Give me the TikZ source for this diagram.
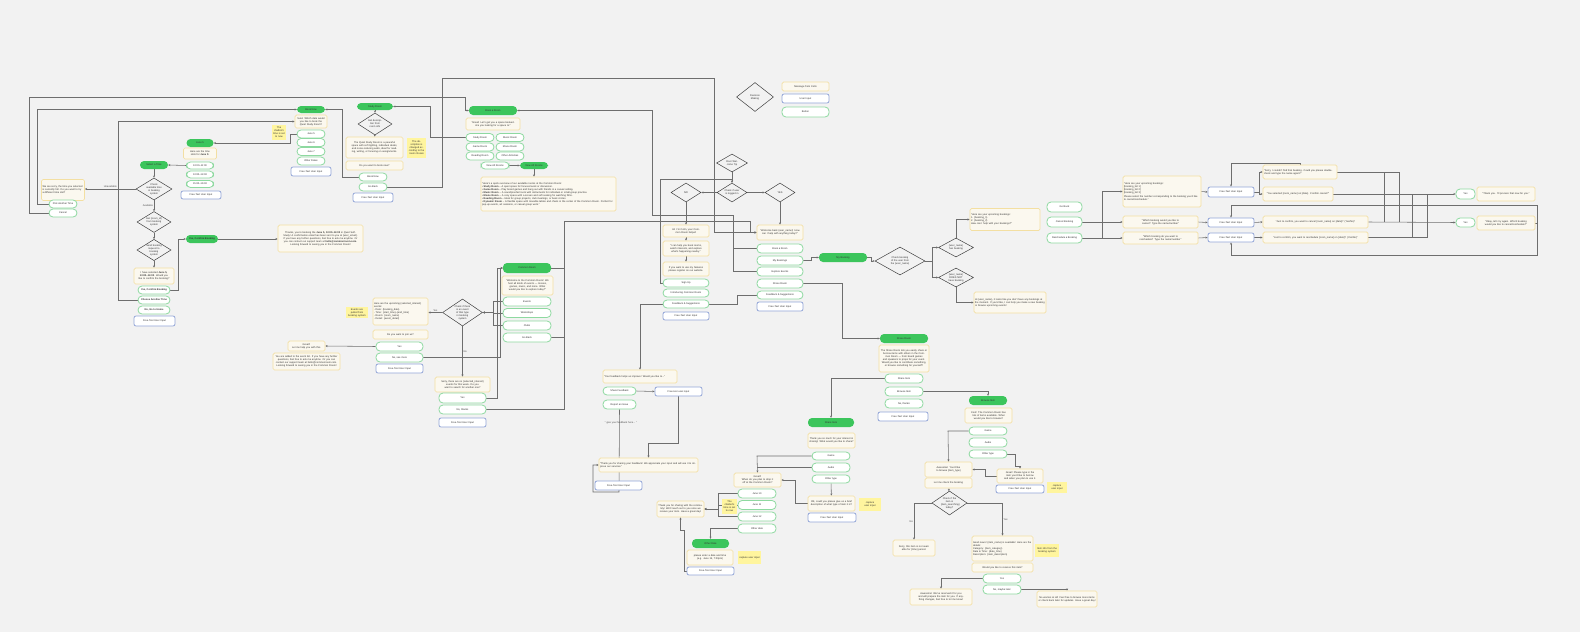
\documentclass[tikz,border=0pt]{standalone}
\usepackage{fontspec}
\setmainfont{Liberation Sans}
\usetikzlibrary{shapes.geometric, arrows.meta}
\pgfdeclarelayer{bg}
\pgfdeclarelayer{edges}
\pgfsetlayers{bg,edges,main}
\definecolor{bgc}{HTML}{F2F2F2}
\definecolor{headc}{HTML}{3CC55C}
\definecolor{btnc}{HTML}{8ED9A0}
\definecolor{msgc}{HTML}{F3DFA2}
\definecolor{msgfill}{HTML}{FBF8EF}
\definecolor{inpc}{HTML}{93A6D8}
\definecolor{stickc}{HTML}{FFF59E}
\definecolor{linec}{HTML}{6E6E6E}

\begin{document}
\begin{tikzpicture}[x=1pt, y=-1pt, font=\fontsize{2.5}{3}\selectfont, text=black!80,
  >={Stealth[length=2.2pt,width=2pt]},
  wh/.style 2 args={minimum width=#1pt, minimum height=#2pt},
  head/.style={fill=headc, rounded corners=4pt, inner sep=0.5pt},
  btn/.style={draw=btnc, line width=0.8pt, fill=white, rounded corners=4pt, inner sep=0.5pt},
  inp/.style={draw=inpc, line width=0.8pt, fill=white, rounded corners=2pt, inner sep=0.5pt},
  msg/.style 2 args={draw=msgc, line width=0.7pt, fill=msgfill, rounded corners=1.5pt,
    text width=#1pt, minimum height=#2pt, align=center, inner sep=1pt},
  sticky/.style 2 args={fill=stickc, text width=#1pt, minimum height=#2pt, align=center, inner sep=1pt},
  dec/.style n args={3}{diamond, draw=black!75, line width=0.5pt, fill=bgc, aspect=1.6,
    minimum width=#1pt, minimum height=#2pt, text width=#3pt, align=center, inner sep=0pt},
  lbl/.style={inner sep=0.8pt, text=black!70},
  link/.style={draw=linec, line width=0.55pt}]

  % page
  \useasboundingbox (0,0) rectangle (1580,632);
  \begin{pgfonlayer}{bg}
    \fill[bgc] (0,0) rectangle (1580,632);
  \end{pgfonlayer}

  % legend
  \node[dec={37}{29}{18}] (lgDec) at (755,97) {Decision Making};
  \node[msg={45}{9}] (lgMsg) at (805.5,86.5) {Message from Colin};
  \node[inp, wh={47}{9}] (lgInp) at (805.5,98.5) {User Input};
  \node[btn, wh={47}{10}] (lgBtn) at (805.5,112) {Button};

  % pick a time
  \node[head, wh={28}{8}] (selTime) at (154,165) {Select a Time};
  \node[dec={36}{22}{17}] (availDec) at (154,189) {Check available time in booking system};
  \node[dec={34}{21}{16}] (idDec) at (154,222) {Get \{room\_id\} from booking system};
  \node[dec={34}{21}{16}] (sendDec) at (154,250) {Send booking request to booking system};
  \node[msg={38}{16}] (confNote) at (154,276) {I have selected \textbf{June 5, 13:00--14:00}. Would you like to confirm the booking?};
  \node[btn, wh={32}{8}] (yesConf) at (154,290) {\textbf{Yes, Confirm Booking}};
  \node[btn, wh={32}{8}] (otherTime) at (154,300) {\textbf{Choose Another Time}};
  \node[btn, wh={32}{8}] (goHome) at (154,310) {\textbf{No, Go to Home}};
  \node[inp, wh={41}{10}] (inSel) at (154.5,321) {Free-Text User Input};
  \node[msg={41}{21}, align=left] (fullNote) at (63,190) {We are sorry, the time you selected is currently full. Do you want to try a different time slot?};
  \node[btn, wh={28}{8}] (pickTime) at (63,204) {Pick Another Time};
  \node[btn, wh={28}{8}] (cancelSel) at (63,213) {Cancel};
  \node[head, wh={32}{8}] (confHead) at (202,239) {\textbf{Yes, Confirm Booking}};
  \node[msg={83}{27}] (doneNote) at (320.5,238.5) {Thanks, you're booking the \textbf{June 5, 13:00--14:00} in Quiet Self-Study! A confirmation email has been sent to you at \{user\_email\}. If you have any further questions, feel free to ask me anytime. Or you can contact our support team at \textbf{hello@commonroom.com}. Looking forward to seeing you in the Common Room!};

  % june 5
  \node[head, wh={27}{8}] (j5Head) at (200,143) {June 5};
  \node[msg={31}{11}] (j5Note) at (200,153.5) {Here are the time slots for \textbf{June 5}:};
  \node[btn, wh={27}{7}] (slotA) at (200,165.5) {10:00--11:00};
  \node[btn, wh={27}{7}] (slotB) at (200,174.5) {13:00--14:00};
  \node[btn, wh={27}{7}] (slotC) at (200,184) {15:00--16:00};
  \node[inp, wh={40}{8}] (inJ5) at (201,195) {Free-Text User Input};

  % book now
  \node[head, wh={28}{7}] (bookNow) at (311,109.5) {Book Now};
  \node[msg={30}{13}] (dateNote) at (311,121.5) {Sure! Which date would you like to book the Quiet Study Room?};
  \node[btn, wh={28}{8}] (dayA) at (311,134) {June 5};
  \node[btn, wh={28}{8}] (dayB) at (311,142.5) {June 6};
  \node[btn, wh={28}{8}] (dayC) at (311,151.5) {June 7};
  \node[btn, wh={28}{8}] (dayOther) at (311,161) {Other Dates};
  \node[inp, wh={40}{9}] (inDate) at (311,171.5) {Free-Text User Input};
  \node[sticky={12}{15}] (stickNow) at (279,132.5) {The chatbot's time is set to now};

  % study room
  \node[head, wh={36}{7}] (studyHead) at (375,106.5) {Study Room};
  \node[dec={34}{22}{16}] (studyDec) at (375,124) {Get description from room info};
  \node[msg={55}{21}] (studyNote) at (374.5,147.5) {The Quiet Study Room is a peaceful space with soft lighting, individual desks, and noise-reducing walls, ideal for reading, writing, or focusing on assignments.};
  \node[msg={55}{9}] (studyAsk) at (374.5,165.5) {Do you want to book now?};
  \node[btn, wh={28}{8}] (studyBook) at (373,177) {Book Now};
  \node[btn, wh={28}{8}] (studyBack) at (373,187) {Go Back};
  \node[inp, wh={40}{9}] (inStudy) at (373,197.5) {Free-Text User Input};
  \node[sticky={17}{20}] (stickDesc) at (416.5,148) {The description is changed according to the room chosen};

  % book a room
  \node[head, wh={48}{9}] (bookHead) at (493,110.5) {Book a Room};
  \node[msg={52}{12}] (bookNote) at (493,124) {“Great! Let's get you a space booked. Are you looking for a space to:”};
  \node[btn, wh={28}{8}] (roomStudy) at (480,137.5) {Study Room};
  \node[btn, wh={28}{8}] (roomMusic) at (510,137.5) {Music Room};
  \node[btn, wh={28}{8}] (roomGame) at (480,147) {Game Room};
  \node[btn, wh={28}{8}] (roomMovie) at (510,147) {Movie Room};
  \node[btn, wh={28}{8}] (roomRead) at (480,156) {Reading Room};
  \node[btn, wh={28}{8}] (roomOther) at (510,156) {Other Activities};
  \node[btn, wh={28}{7}] (roomAll) at (495,165.5) {View All Rooms};
  \node[head, wh={28}{7}] (allHead) at (534,165.5) {View All Rooms};
  \node[msg={133}{34}, align=left] (allNote) at (548.5,194) {“Here's a quick overview of our available rooms at the Common Room:\\
    • \textbf{Study Room} – A quiet space for focused work or discussion.\\
    • \textbf{Game Room} – Play board games and hang out with friends in a casual setting.\\
    • \textbf{Music Room} – A soundproofed room with instruments for individual or small-group practice.\\
    • \textbf{Movie Room} – A cozy space with a screen and soft seating for watching films.\\
    • \textbf{Reading Room} – Ideal for group projects, club meetings, or book circles.\\
    • \textbf{Dynamic Room} – A flexible space with movable tables and chairs in the center of the Common Room. Perfect for pop-up events, art sessions, or casual group work.”};

  % welcome / menu
  \node[dec={31}{18}{16}] (tipDec) at (732,163) {Root Welcome Tip};
  \node[dec={30}{19}{15}] (loginDec) at (732,192.5) {Check if user is logged in};
  \node[dec={30}{19}{12}] (noDec) at (686,192.5) {NO};
  \node[dec={30}{19}{12}] (yesDec) at (780,192.5) {YES};
  \node[msg={44}{12}] (hiNote) at (686,231) {Hi! I'm Colin, your Common Room helper!};
  \node[msg={44}{15}] (helpNote) at (686,248.5) {“I can help you book rooms, watch interests, and explore what's happening nearby.”};
  \node[msg={44}{14}] (regNote) at (686,269) {If you want to use my features please register on our website.};
  \node[btn, wh={46}{8}] (signUp) at (686,283) {Sign Up};
  \node[btn, wh={46}{8}] (introCR) at (686,293) {Introducing Common Room};
  \node[btn, wh={46}{8}] (fbGuest) at (686,304) {Feedback \& Suggestions};
  \node[inp, wh={46}{8}] (inGuest) at (686,316) {Free-Text User Input};
  \node[msg={44}{15}] (welNote) at (780,232.5) {“Welcome back \{user\_name\}! How can I help with anything today?”};
  \node[btn, wh={46}{9}] (mBook) at (780,248.5) {Book a Room};
  \node[btn, wh={46}{9}] (mMine) at (780,260.5) {My Bookings};
  \node[btn, wh={46}{9}] (mEvents) at (780,271.5) {Explore Events};
  \node[btn, wh={46}{9}] (mShare) at (780,283.5) {Share Room};
  \node[btn, wh={46}{8}] (mFb) at (780,295) {Feedback \& Suggestions};
  \node[inp, wh={46}{9}] (inMember) at (780,306.5) {Free-Text User Input};

  % my booking
  \node[head, wh={48}{9}] (myHead) at (843,257.5) {My Booking};
  \node[dec={50}{28}{24}] (myDec) at (900,261) {Check booking of the user from the \{user\_name\}};
  \node[dec={35}{19}{17}] (hasDec) at (956,247.5) {\{user\_name\} has booking};
  \node[dec={35}{19}{17}] (noneDec) at (956,277.5) {\{user\_name\} DOES NOT have booking};
  \node[msg={68}{22}, align=left] (listNote) at (1005,219.5) {“Here are your upcoming bookings:\\ 1. \{booking\_1\}\\ 2. \{booking\_2\}\\ How can I help with your bookings?”};
  \node[msg={70}{21}, align=left] (noneNote) at (1010,302.5) {Hi \{user\_name\}, it looks like you don't have any bookings at the moment. If you'd like, I can help you make a new booking or browse upcoming events!};
  \node[btn, wh={35}{10}] (bkBack) at (1064.5,207) {Go Back};
  \node[btn, wh={35}{10}] (bkCancel) at (1064.5,222) {Cancel Booking};
  \node[btn, wh={35}{10}] (bkResch) at (1064.5,238) {Reschedule a Booking};
  \node[msg={76}{31}, align=left] (pickNote) at (1162,191.5) {“Here are your upcoming bookings:\\ {[}booking\_list 1{]}\\ {[}booking\_list 2{]}\\ {[}booking\_list 3{]}\\[1pt] Please select the number corresponding to the booking you'd like to cancel/reschedule.”};
  \node[msg={73}{12}] (cancelAsk) at (1160.5,222) {“Which booking would you like to cancel? Type the name/number”};
  \node[msg={73}{12}] (reschAsk) at (1160.5,238) {“Which booking do you want to reschedule? Type the name/number”};
  \node[inp, wh={46}{10}] (inPick) at (1231,192) {Free-Text User Input};
  \node[inp, wh={46}{9}] (inCancel) at (1231,222.5) {Free-Text User Input};
  \node[inp, wh={46}{9}] (inResch) at (1231,237.5) {Free-Text User Input};
  \node[msg={72}{14}, align=left] (notFound) at (1300,172) {“Sorry, I couldn't find that booking. Could you please double-check and type the name again?”};
  \node[msg={68}{14}] (selNote) at (1298,194) {“You selected [room\_name] on [date]. Confirm cancel?”};
  \node[msg={103}{12}] (cancelConf) at (1315.5,222) {“Just to confirm, you want to cancel [room\_name] on [date]? (Yes/No)”};
  \node[msg={103}{11}] (reschConf) at (1315.5,237.5) {“Just to confirm, you want to reschedule [room\_name] on [date]? (Yes/No)”};
  \node[btn, wh={19}{10}] (yesA) at (1465.5,194) {Yes};
  \node[btn, wh={19}{9}] (yesB) at (1465.5,222.5) {Yes};
  \node[msg={56}{14}] (doneA) at (1506,194) {“Thank you. I'll process that now for you.”};
  \node[msg={56}{14}] (doneB) at (1506,223) {“Okay, let's try again. Which booking would you like to cancel/reschedule?”};

  % common room
  \node[head, wh={48}{10}] (crHead) at (527,268) {Common Room};
  \node[msg={49}{19}] (crNote) at (527.5,285.5) {“Welcome to the Common Room! We host all kinds of events — movies, games, music, and more. What would you like to explore today?”};
  \node[btn, wh={48}{9}] (crEvents) at (527,301.5) {Events};
  \node[btn, wh={48}{9}] (crWork) at (527,313) {Workshops};
  \node[btn, wh={48}{9}] (crClubs) at (527,325.5) {Clubs};
  \node[btn, wh={48}{9}] (crBack) at (527,337.5) {Go Back};
  \node[dec={35}{27}{17}] (crDec) at (462.5,312.5) {Check if there is an event of that type in booking system};
  \node[msg={53}{27}, align=left] (evNote) at (400.5,311.5) {Here are the upcoming \{selected\_interest\} events:\\ - Date: \{booking\_date\}\\ - Time: \{start\_time\}--\{end\_time\}\\ - Room: \{room\_name\}\\ - Detail: \{event\_detail\}};
  \node[msg={53}{9}] (joinAsk) at (400.5,334.5) {Do you want to join us?};
  \node[btn, wh={47}{9}] (joinYes) at (399.5,346.5) {Yes};
  \node[btn, wh={47}{9}] (joinNo) at (399.5,357.5) {No, see more};
  \node[inp, wh={47}{9}] (inJoin) at (399.5,368.5) {Free-Text User Input};
  \node[sticky={20}{11}] (stickEv) at (357,312.5) {Events are pulled from booking system};
  \node[msg={35}{10}] (greatNote) at (306.5,346) {Great!!\\ Let me help you with this.};
  \node[msg={65}{17}] (joinedNote) at (306.5,361.5) {You are added to the event list. If you have any further questions, feel free to ask me anytime. Or you can contact our support team at hello@commonroom.com. Looking forward to seeing you in the Common Room!};
  \node[msg={53}{15}] (noEvNote) at (462.5,384.5) {Sorry, there are no \{selected\_interest\} events for this week. Do you want to search for another one?};
  \node[btn, wh={47}{10}] (retryYes) at (462.5,398) {Yes};
  \node[btn, wh={47}{9}] (retryNo) at (462.5,409.5) {No, thanks};
  \node[inp, wh={47}{9}] (inRetry) at (462.5,422.5) {Free-Text User Input};

  % feedback
  \node[msg={72}{13}, align=left] (fbNote) at (640,376.5) {“Your feedback helps us improve! Would you like to...”};
  \node[btn, wh={33}{8}] (fbShare) at (619.5,391) {Share Feedback};
  \node[btn, wh={33}{9}] (fbReport) at (619.5,404.5) {Report an Issue};
  \node[inp, wh={47}{9}] (inFb) at (678.5,391.5) {Free-text user input};
  \node[lbl] (fbHint) at (621,423) {“ give your feedback here... ”};
  \node[msg={97}{14}, align=left] (fbThanks) at (648.5,465) {“Thank you for sharing your feedback! We appreciate your input and will use it to improve our services.”};
  \node[inp, wh={47}{9}] (inFbEnd) at (618.5,485.5) {Free-Text User Input};

  % share room
  \node[head, wh={48}{9}] (srHead) at (904,338.5) {Share Room};
  \node[msg={48}{27}] (srNote) at (904,358.5) {The Share Room lets you easily share or borrow items with others in the Common Room — from board games and speakers to props for your event. Would you like to contribute something, or browse something for yourself?};
  \node[btn, wh={38}{9}] (srShare) at (904,378.5) {Share Item};
  \node[btn, wh={38}{9}] (srBrowse) at (904,391.5) {Browse Item};
  \node[btn, wh={38}{9}] (srNo) at (904,403.5) {No, thanks};
  \node[inp, wh={50}{9}] (inSr) at (903,416.5) {Free-Text User Input};

  % share item
  \node[head, wh={46}{9}] (siHead) at (831,422.5) {Share Item};
  \node[msg={45}{15}] (siNote) at (831.5,440.5) {Thank you so much for your interest in sharing! What would you like to share?};
  \node[btn, wh={38}{8}] (siGame) at (831,456) {Game};
  \node[btn, wh={38}{9}] (siAudio) at (831,467.5) {Audio};
  \node[btn, wh={38}{8}] (siOther) at (831,479) {Other type};
  \node[msg={45}{15}] (siDesc) at (831.5,503.5) {OK, could you please give us a brief description of what type of item it is?};
  \node[inp, wh={48}{9}] (inSiDesc) at (832,517.5) {Free-Text User Input};
  \node[sticky={20}{13}] (stickSi) at (870,504.5) {capture user input};
  \node[msg={45}{14}] (whenNote) at (757.5,480) {Great!!\\ When do you plan to drop it off at the Common Room?};
  \node[btn, wh={38}{9}] (dateA) at (757,493.5) {June 10};
  \node[btn, wh={38}{9}] (dateB) at (757,505) {June 11};
  \node[btn, wh={38}{9}] (dateC) at (757,516.5) {June 12};
  \node[btn, wh={38}{9}] (dateOther) at (757,528.5) {Other date};
  \node[sticky={13}{15}] (stickTime) at (729.5,506.5) {The chatbot's time is set to now};
  \node[msg={45}{16}] (thanksShare) at (680.5,509) {Thank you for sharing with the community! We'll reach out to you once we receive your item. Have a great day!};
  \node[head, wh={37}{9}] (odHead) at (710.5,543.5) {Other Date};
  \node[msg={44}{15}] (odNote) at (710,557.5) {please enter a date and time\\ (e.g. June 15, 7:00pm)};
  \node[sticky={21}{13}] (stickOd) at (749.5,557.5) {capture user input};
  \node[inp, wh={47}{8}] (inOd) at (710.5,571) {Free-Text User Input};

  % browse item
  \node[head, wh={38}{9}] (brHead) at (988,400.5) {Browse Item};
  \node[msg={45}{15}] (brNote) at (988.5,415.5) {Cool! The Common Room has lots of items available. What would you like to browse?};
  \node[btn, wh={38}{8}] (brGame) at (988,431) {Game};
  \node[btn, wh={38}{9}] (brAudio) at (988,442.5) {Audio};
  \node[btn, wh={38}{8}] (brOther) at (988,454) {Other type};
  \node[msg={45}{15}] (brPick) at (948.5,469.5) {Awesome! You'd like to browse \{item\_type\}};
  \node[msg={45}{10}] (brCheck) at (948.5,483) {Let me check the booking};
  \node[msg={44}{14}] (brType) at (1020,476) {Great! Please type in the item you'd like to borrow and when you plan to use it.};
  \node[inp, wh={48}{8}] (inBr) at (1020,489) {Free-Text User Input};
  \node[sticky={18}{11}] (stickBr) at (1057,487.5) {capture user input};
  \node[dec={35}{24}{17}] (itemDec) at (949.5,503) {Check if the item is \{item\_searching\} today?};
  \node[msg={40}{16}] (sorryNote) at (914,548) {Sorry, this item is not available for \{time\} period.};
  \node[msg={59}{25}, align=left] (goodNote) at (1002.5,548.5) {Good news! \{item\_name\} is available! Here are the details:\\ Category: \{item\_category\}\\ Date \& Time: \{date\_time\}\\ Description: \{item\_description\}};
  \node[sticky={22}{13}] (stickList) at (1047,550.5) {Item info from the booking system};
  \node[msg={59}{9}] (reserveAsk) at (1002.5,567.5) {Would you like to reserve this item?};
  \node[btn, wh={38}{9}] (resYes) at (1002,578.5) {Yes};
  \node[btn, wh={38}{9}] (resNo) at (1002,589.5) {No, maybe later};
  \node[msg={60}{16}] (resNote) at (941,597) {Awesome! We've reserved it for you and will prepare the item for you. If anything changes, feel free to let me know!};
  \node[msg={58}{16}] (laterNote) at (1067,599) {No worries at all! Feel free to browse more items or check back later for updates. Have a great day!};

  % connectors
  \begin{pgfonlayer}{edges}
    \draw[link,->] (slotA.west) -- (selTime.east);
    \draw[link,->] (selTime) -- (availDec);
    \draw[link,->] (availDec) -- node[lbl, left] {Available} (idDec);
    \draw[link,->] (idDec) -- (sendDec);
    \draw[link,->] (sendDec) -- (confNote);
    \draw[link,->] (availDec.west) -- node[lbl, above] {Unavailable} (availDec.west -| fullNote.east);
    \draw[link,->] (yesConf.east) -- (178,290) |- (confHead.west);
    \draw[link,->] (confHead.east) -- (confHead.east -| doneNote.west);
    \draw[link,->] (pickTime.west) -- (37,204) |- (bookNow.west);
    \draw[link,->] (cancelSel.west) -- (29,213) -- (29,97) -- (465,97) |- (bookHead.west);
    \draw[link,->] (otherTime.west) -- (118,300) |- (dateNote.west);
    \draw[link,->] (dayA.west) -- (290,134) |- (j5Head.east);
    \draw[link,->] (studyBook.west) -- (342,177) |- (bookNow.east);
    \draw[link,->] (studyHead) -- (studyDec);
    \draw[link,->] (studyDec) -- (studyNote);
    \draw[link,->] (studyBack.east) -- (442,187) -- (442,78) -- (714,78) |- (welNote.west);
    \draw[link,->] (roomStudy.west) -- (430,137.5) |- (studyHead.east);
    \draw[link,->] (roomAll) -- (allHead);
    \draw[link,->] (allHead) -- (allHead |- allNote.north);

    \draw[link,->] (tipDec) -- (loginDec);
    \draw[link,->] (loginDec) -- (noDec);
    \draw[link,->] (loginDec) -- (yesDec);
    \draw[link,->] (noDec) -- (hiNote);
    \draw[link,->] (hiNote) -- (helpNote);
    \draw[link,->] (helpNote) -- (regNote);
    \draw[link,->] (yesDec) -- (welNote);
    \draw[link,->] (signUp.west) -- (660,283) |- (732,179) -- (loginDec.north);
    \draw[link,->] (mBook.west) -- (733,248.5) -- (733,215) -- (652,215) |- (bookHead.east);
    \draw[link] (mEvents.west) -- (733,271.5) -- (733,248.5);
    \draw[link,->] (mMine.east) -- ++(8,0) |- (myHead.west);
    \draw[link,->] (mShare.east) -- (842,283.5) |- (srHead.west);
    \draw[link] (mFb.west) -- (737,295) |- (fbGuest.east);
    \draw[link,->] (fbGuest.west) -| (fbNote.north);

    \draw[link,->, line width=1pt] (crBack.east) -- (564,337.5) -- (564,221) -- (750,221) |- (welNote.west);
    \draw[link] (crHead.east) -- (564,268);
    \draw[link,->] (crEvents.west) -- (493,301.5) |- (crDec.east);
    \draw[link,->] (crWork.west) -- (493,313) |- (crDec.east);
    \draw[link,->] (crClubs.west) -- (493,325.5) |- (crDec.east);
    \draw[link,->] (crDec.west) -- node[lbl, above] {Yes} (crDec.west -| evNote.east);
    \draw[link,->] (crDec.south) -- node[lbl, right] {No} (noEvNote.north);
    \draw[link,->] (joinYes.west) -- (greatNote.east);
    \draw[link,->] (joinNo.east) -- (500,357.5) |- (crHead.west);
    \draw[link,->] (retryYes.east) -- (497,398) |- (crHead.west);
    \draw[link] (retryNo.east) -- (564,409.5) -- (564,337.5);

    \draw[link,->] (fbShare.east) -- (inFb.west);
    \draw[link,->] (inFb.south) -- (678.5,443) -| (fbThanks.north);
    \draw[link,->] (fbReport.south) -- (619,492) -| (593,465) -- (fbThanks.west);

    \draw[link,->] (myHead.east) -- ++(4,0) |- (myDec.west);
    \draw[link,->] (myDec.east) -- (932,261) |- (hasDec.west);
    \draw[link,->] (myDec.east) -- (932,261) |- (noneDec.west);
    \draw[link,->] (hasDec.north) |- (listNote.west);
    \draw[link,->] (noneDec.south) |- (noneNote.west);
    \draw[link,->] (bkCancel.east) -- (cancelAsk.west);
    \draw[link,->] (bkResch.east) -- (reschAsk.west);
    \draw[link,->] (bkCancel.east) -- (1102,222) |- (pickNote.west);
    \draw[link] (bkResch.east) -- (1102,238) -- (1102,222);
    \draw[link,->] (pickNote.east) -- (inPick.west);
    \draw[link,->] (cancelAsk.east) -- (inCancel.west);
    \draw[link,->] (reschAsk.east) -- (inResch.west);
    \draw[link,->] (inPick.east) -- (1259,192) |- (notFound.west);
    \draw[link,->] (inPick.east) -- (1259,192) |- (selNote.west);
    \draw[link,->] (notFound.north) -- (1300,163) -| (inPick.north);
    \draw[link,->] (inCancel.east) -- (cancelConf.west);
    \draw[link,->] (inResch.east) -- (reschConf.west);
    \draw[link,->] (selNote.east) -- (yesA.west);
    \draw[link,->] (cancelConf.east) -- (yesB.west);
    \draw[link] (notFound.east) -| (1384,222);
    \draw[link] (notFound.east) -| (1399,222);
    \draw[link] (reschConf.east) -| (1412,194);
    \draw[link] (reschConf.east) -| (1427,194);
    \draw[link,->] (doneB.east) -- (1537,223) |- (1231,205) -- (inCancel.north);
    \draw[link,->] (doneB.east) -- (1537,223) |- (1231,255) -- (inResch.south);

    \draw[link,->] (srShare.west) -- (831,378.5) -- (siHead.north);
    \draw[link,->] (srBrowse.east) -- (988,391.5) -- (brHead.north);
    \draw[link,->] (siGame.west) -- (757,456) -- (whenNote.north);
    \draw[link] (siAudio.west) -- (757,467.5);
    \draw[link,->] (siOther) -- (siDesc);
    \draw[link,->] (siDesc.west) -- (795,503.5) |- (whenNote.east);
    \draw[link,->] (dateA.west) -- (718,493.5) |- (thanksShare.east);
    \draw[link,->] (dateB.west) -- (718,505) |- (thanksShare.east);
    \draw[link,->] (dateC.west) -- (718,516.5) |- (thanksShare.east);
    \draw[link,->] (dateOther.west) -- (710.5,528.5) -- (odHead.north);
    \draw[link,->] (inOd.west) -- (684,571) -- (684,530) -| (thanksShare.south);

    \draw[link,->] (brGame.west) -- (948,431) -- (brPick.north);
    \draw[link,->] (brOther.east) -- (1015,454) -- (1015,466) -| (brType.north);
    \draw[link,->] (brType.west) -- (985,476) |- (brPick.east);
    \draw[link,->] (brCheck) -- (itemDec);
    \draw[link,->] (itemDec.west) -| node[lbl, pos=0.75, left] {No} (sorryNote.north);
    \draw[link,->] (itemDec.east) -| node[lbl, pos=0.75, right] {Yes} (goodNote.north);
    \draw[link,->] (resYes.west) -| (resNote.north);
    \draw[link,->] (resNo.east) -| (laterNote.north);
  \end{pgfonlayer}
\end{tikzpicture}
\end{document}
